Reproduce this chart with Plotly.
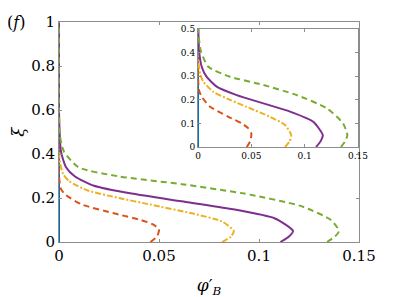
import plotly.graph_objects as go

# Data (phi'_B, xi)
blue_phi = [0, 0]
blue_xi = [0, 1]
red_phi = [0.0457, 0.049, 0.050, 0.047, 0.041, 0.0285, 0.0113, 0.0035, 0.001, 0.0, 0.0]
red_xi = [0, 0.025, 0.058, 0.08, 0.1, 0.128, 0.171, 0.213, 0.24, 0.3, 1.0]
orange_phi = [0.0816, 0.086, 0.0874, 0.0816, 0.0675, 0.0457, 0.030, 0.0144, 0.005, 0.002, 0.0005, 0.0, 0.0]
orange_xi = [0, 0.025, 0.05, 0.093, 0.128, 0.17, 0.2, 0.234, 0.277, 0.31, 0.36, 0.42, 1.0]
purple_phi = [0.1107, 0.115, 0.117, 0.108, 0.0863, 0.0613, 0.0363, 0.0175, 0.008, 0.0035, 0.001, 0.0003, 0.0, 0.0]
purple_xi = [0, 0.025, 0.05, 0.107, 0.15, 0.185, 0.22, 0.256, 0.298, 0.34, 0.41, 0.5, 0.6, 1.0]
green_phi = [0.134, 0.138, 0.140, 0.136, 0.1207, 0.0926, 0.0613, 0.030, 0.0097, 0.0025, 0.0005, 0.0, 0.0]
green_xi = [0, 0.025, 0.05, 0.1, 0.164, 0.22, 0.263, 0.298, 0.34, 0.41, 0.48, 0.6, 1.0]

main_xticks = [0, 0.05, 0.1, 0.15]
main_xlabels = ["0", "0.05", "0.1", "0.15"]
main_yticks = [0, 0.2, 0.4, 0.6, 0.8, 1]
main_ylabels = ["0", "0.2", "0.4", "0.6", "0.8", "1"]
inset_yticks = [0, 0.1, 0.2, 0.3, 0.4, 0.5]
inset_ylabels = ["0", "0.1", "0.2", "0.3", "0.4", "0.5"]

series = [
    (blue_phi, blue_xi, "#0072BD", "solid"),
    (red_phi, red_xi, "#D95319", "6px,4px"),
    (orange_phi, orange_xi, "#EDB120", "6px,2px,2px,2px"),
    (purple_phi, purple_xi, "#7E2F8E", "solid"),
    (green_phi, green_xi, "#77AC30", "6px,4px"),
]

fig = go.Figure()
for axes in [("x", "y"), ("x2", "y2")]:
    for phi, xi, col, dash in series:
        fig.add_trace(go.Scatter(x=phi, y=xi, mode="lines", xaxis=axes[0], yaxis=axes[1],
                                 line=dict(color=col, width=2, dash=dash, shape="spline", smoothing=0.6),
                                 showlegend=False, hoverinfo="skip"))

font = "DejaVu Serif"
axcommon = dict(showline=True, mirror="ticks", ticks="inside", ticklen=3, linecolor="#8c8c8c",
                tickcolor="#8c8c8c", linewidth=1, showgrid=False, zeroline=False, automargin=False)

fig.update_layout(
    width=397, height=297,
    margin=dict(l=51, r=46, t=14, b=63),
    paper_bgcolor="white", plot_bgcolor="white",
    font=dict(family=font, color="black"),
    xaxis=dict(range=[0, 0.15], tickvals=main_xticks, ticktext=main_xlabels, domain=[0, 1],
               tickfont=dict(size=15, family=font), title=dict(text="<i>φ</i>′<sub><i>B</i></sub>", font=dict(size=17, family=font)),
               **axcommon),
    yaxis=dict(range=[0, 1], tickvals=main_yticks, ticktext=main_ylabels, domain=[0, 1],
               tickfont=dict(size=15, family=font), title=dict(text="<i>ξ</i>", font=dict(size=17, family=font)),
               **axcommon),
    xaxis2=dict(range=[0, 0.15], tickvals=main_xticks, ticktext=main_xlabels, domain=[0.4633, 0.9967],
                anchor="y2", tickfont=dict(size=9, family=font), **axcommon),
    yaxis2=dict(range=[0, 0.5], tickvals=inset_yticks, ticktext=inset_ylabels, domain=[0.4318, 0.968],
                anchor="x2", tickfont=dict(size=9, family=font), **axcommon),
    annotations=[dict(text="(<i>f</i>)", xref="paper", yref="paper", x=-0.145, y=1.0,
                      xanchor="center", yanchor="middle", showarrow=False, font=dict(size=16, family=font))],
)

fig.write_html("out.html")
